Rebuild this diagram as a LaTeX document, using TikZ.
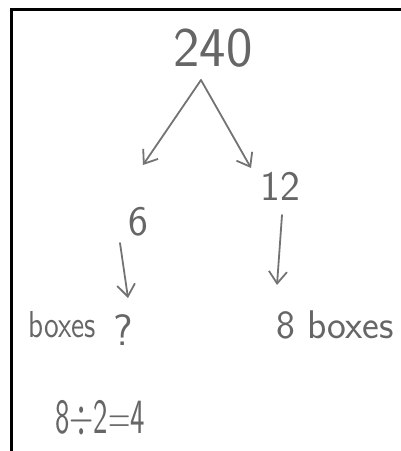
\documentclass[tikz,border=0pt]{standalone}
\usetikzlibrary{arrows.meta}
\begin{document}
\begin{tikzpicture}[x = 0.5pt, y = -0.5pt,
	pencil/.style = {draw = black!55, line width = 0.9pt, line cap = round, -{Straight Barb[length = 6pt, width = 9pt]}},
	hand/.style = {text = black!60, inner sep = 0pt}]
	\useasboundingbox (0, 0) rectangle (401, 451);
	\draw[line width = 1.6pt] (11.5, 451) -- (11.5, 9.5) -- (401, 9.5);
	% numbers and labels
	\node[hand, font = \sffamily\fontsize{28}{28}\selectfont] (top) at (213, 48) {240};
	\node[hand, font = \sffamily\fontsize{21}{21}\selectfont] (twelve) at (280, 186) {12};
	\node[hand, font = \sffamily\fontsize{21}{21}\selectfont] (six) at (138, 222) {6};
	\node[hand, font = \sffamily\fontsize{15}{15}\selectfont] (boxes) at (62, 325) {\scalebox{1}[1.25]{boxes}};
	\node[hand, font = \sffamily\fontsize{22}{22}\selectfont] (qmark) at (123, 330) {?};
	\node[hand, font = \sffamily\fontsize{20}{20}\selectfont] (eight) at (335, 325) {8 boxes};
	\node[hand, font = \sffamily\fontsize{17}{17}\selectfont] (sum) at (100, 419) {\scalebox{0.9}[1.45]{8{$\div$}2={}4}};
	% arrow ends
	\coordinate (split) at (201, 80);
	\coordinate (tipL) at (143, 165);
	\coordinate (tipR) at (251, 168);
	\coordinate (sixA) at (120, 243);
	\coordinate (sixB) at (128, 298);
	\coordinate (twA) at (282, 215);
	\coordinate (twB) at (277, 285);
	\foreach \a/\b in {split/tipL, split/tipR, sixA/sixB, twA/twB}{
		\draw[pencil] (\a) -- (\b);}
\end{tikzpicture}
\end{document}
